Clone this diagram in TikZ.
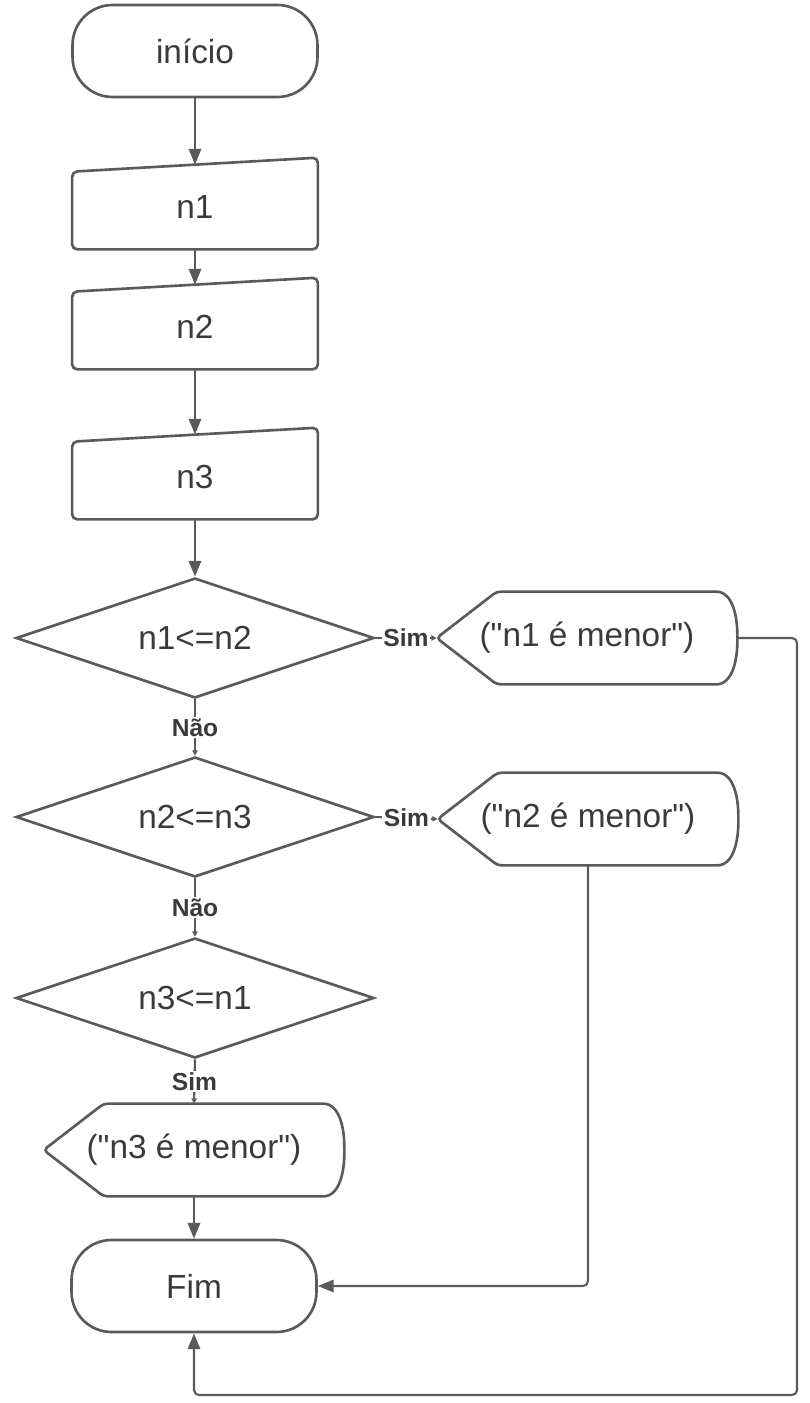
\documentclass[tikz,border=0pt]{standalone}
\usepackage{fontspec}
\setmainfont{Liberation Sans}[Ligatures=TeXOff]
\usetikzlibrary{shapes.geometric,arrows.meta}
\definecolor{linegray}{HTML}{5A5A5A}
\definecolor{textgray}{HTML}{3A3A3A}

\begin{document}
\begin{tikzpicture}[x=0.02cm, y=-0.02cm,
  font=\fontsize{19}{22}\selectfont, text=textgray,
  shapeline/.style={draw=linegray, line width=1.5pt},
  terminal/.style={shapeline, rounded corners=0.8cm, minimum width=4.9cm, minimum height=1.84cm},
  inputbox/.style={minimum width=4.9cm, minimum height=1.68cm},
  displaybox/.style={minimum width=6cm, minimum height=1.84cm},
  decision/.style={shapeline, diamond, aspect=3, inner sep=0pt, minimum width=7.16cm, minimum height=2.4cm},
  answer/.style={font=\fontsize{14}{16}\selectfont\bfseries, fill=white, inner sep=1pt},
  flow/.style={draw=linegray, line width=1.2pt, rounded corners=0.1cm, -{Triangle[length=9pt,width=7pt]}},
  branch/.style={draw=linegray, line width=1.2pt, -{Triangle[length=3pt,width=3pt]}}]

\useasboundingbox (0,0) rectangle (809,1403);

\node[terminal] (inicio) at (195,51) {início};
\node[inputbox] (n1) at (195,207) {n1};
\node[inputbox] (n2) at (195,327) {n2};
\node[inputbox] (n3) at (195,477) {n3};
\node[decision] (d1) at (195,638) {n1<=n2};
\node[decision] (d2) at (195,817) {n2<=n3};
\node[decision] (d3) at (195,998) {n3<=n1};
\node[displaybox] (out1) at (587,638) {("n1 é menor")};
\node[displaybox] (out2) at (588,819) {("n2 é menor")};
\node[displaybox] (out3) at (194,1150) {("n3 é menor")};
\node[terminal] (fim) at (194,1286) {Fim};
\coordinate (loop) at (797,1395);

% outlines of the input and output shapes
\foreach \n in {n1,n2,n3}
  \draw[shapeline, rounded corners=0.1cm] ([yshift=-0.14cm]\n.north west) -- ([yshift=0.14cm]\n.north east) -- (\n.south east) -- (\n.south west) -- cycle;
\foreach \n in {out1,out2,out3}
  \draw[shapeline, rounded corners=0.08cm] (\n.west) -- ([xshift=1.2cm]\n.north west) -- ([xshift=-0.5cm]\n.north east) to[out=0,in=90] (\n.east) to[out=-90,in=0] ([xshift=-0.5cm]\n.south east) -- ([xshift=1.2cm]\n.south west) -- cycle;

\draw[flow] (inicio.south) -- (n1.north);
\draw[flow] (n1.south) -- (n2.north);
\draw[flow] (n2.south) -- (n3.north);
\draw[flow] (n3.south) -- (d1.north);
\draw[branch] (d1.south) -- node[answer] {Não} (d2.north);
\draw[branch] (d2.south) -- node[answer] {Não} (d3.north);
\draw[branch] (d1.east) -- node[answer] {Sim} (out1.west);
\draw[branch] (d2.east) -- node[answer] {Sim} (out2.west);
\draw[branch] (d3.south) -- node[answer] {Sim} (out3.north);
\draw[flow] (out3.south) -- (fim.north);
\draw[flow] (out2.south) |- (fim.east);
\draw[flow] (out1.east) -| (loop) -| (fim.south);
\end{tikzpicture}
\end{document}
